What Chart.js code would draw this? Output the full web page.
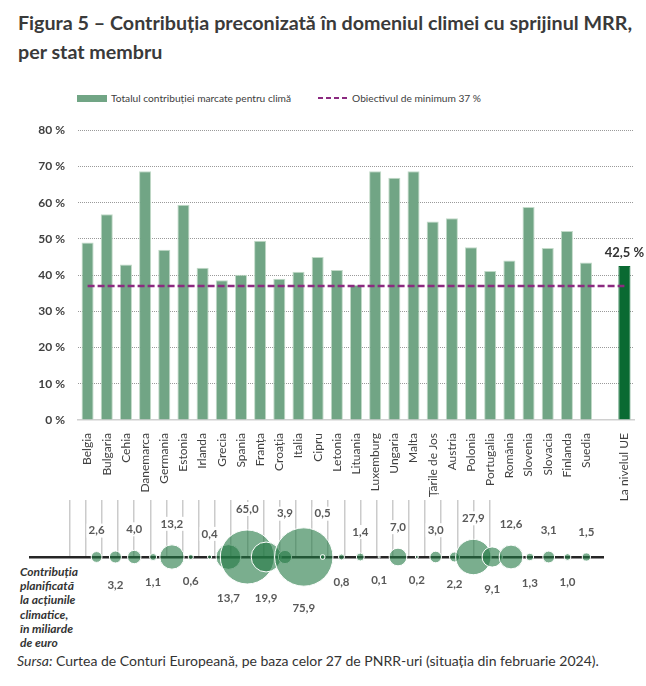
<!DOCTYPE html>
<html lang="ro">
<head>
<meta charset="utf-8">
<title>Figura 5</title>
<script src="https://cdn.jsdelivr.net/npm/chart.js@4.4.1/dist/chart.umd.min.js"></script>
<style>
  html, body { margin: 0; padding: 0; background: #fff; }
  body { width: 646px; height: 686px; position: relative; overflow: hidden; font-family: Lato, "Open Sans", sans-serif; color: #404040; }
  #title { position: absolute; left: 18px; top: 9px; font-weight: 700; font-size: 19.7px; line-height: 28.5px; color: #3a3a3a; white-space: nowrap; }
  #legend { position: absolute; left: 77px; top: 92px; font-size: 10.2px; color: #404040; white-space: nowrap; display: flex; align-items: center; }
  #legend .box { display: inline-block; width: 30px; height: 7px; background: #71a585; margin-right: 4px; }
  #legend svg { margin-left: 27px; margin-right: 3px; }
  #bars { position: absolute; left: 0; top: 110px; z-index: 2; }
  #bubbles { position: absolute; left: 0; top: 470px; z-index: 1; }
  #side { position: absolute; left: 20px; top: 565px; font-weight: 700; font-style: italic; font-size: 12px; line-height: 14.2px; color: #333; }
  #source { position: absolute; left: 17px; top: 652px; font-size: 14px; color: #333; white-space: nowrap; }
</style>
</head>
<body>
<div id="title">Figura 5 – Contribuția preconizată în domeniul climei cu sprijinul MRR,<br>per stat membru</div>
<div id="legend">
  <span class="box"></span>Totalul contribuției marcate pentru climă
  <svg width="31" height="6"><line x1="0" y1="3" x2="31" y2="3" stroke="#8b2a80" stroke-width="2" stroke-dasharray="5,3"/></svg>Obiectivul de minimum 37 %
</div>
<canvas id="bars" width="646" height="400"></canvas>
<canvas id="bubbles" width="646" height="170"></canvas>
<div id="side">Contribuția<br>planificată<br>la acțiunile<br>climatice,<br>în miliarde<br>de euro</div>
<div id="source"><i>Sursa:</i> Curtea de Conturi Europeană, pe baza celor 27 de PNRR-uri (situația din februarie 2024).</div>

<script>
const countries = ['Belgia', 'Bulgaria', 'Cehia', 'Danemarca', 'Germania', 'Estonia', 'Irlanda', 'Grecia',
  'Spania', 'Franța', 'Croația', 'Italia', 'Cipru', 'Letonia', 'Lituania', 'Luxemburg', 'Ungaria', 'Malta',
  'Țările de Jos', 'Austria', 'Polonia', 'Portugalia', 'România', 'Slovenia', 'Slovacia', 'Finlanda', 'Suedia'];
// share of climate contribution in each plan, %
const climateShare = [49.0, 56.8, 42.9, 68.7, 47.0, 59.4, 42.0, 38.6, 40.1, 49.5, 39.0, 40.9, 45.0, 41.4,
  37.3, 68.7, 66.9, 68.7, 54.8, 55.7, 47.7, 41.1, 44.0, 58.8, 47.5, 52.2, 43.5];
const euLabel = 'La nivelul UE';
const euShare = 42.5;
const target = 37;
// planned climate contribution, bn euro
const climateBn = [2.6, 3.2, 4.0, 1.1, 13.2, 0.6, 0.4, 13.7, 65.0, 19.9, 3.9, 75.9, 0.5, 0.8, 1.4, 0.1,
  7.0, 0.2, 3.0, 2.2, 27.9, 9.1, 12.6, 1.3, 3.1, 1.0, 1.5];
const yTicks = [0, 10, 20, 30, 40, 50, 60, 70, 80];

const comma = v => v.toFixed(1).replace('.', ',');

const barLabels = [...countries, '', euLabel];
const barValues = [...climateShare, null, euShare];
const isEu = barLabels.map(l => l === euLabel);

const euValueLabel = {
  id: 'euValueLabel',
  afterDatasetsDraw(chart) {
    const meta = chart.getDatasetMeta(1);
    const el = meta.data[barLabels.indexOf(euLabel)];
    const ctx = chart.ctx;
    ctx.save();
    ctx.font = 'bold 13px Lato';
    ctx.fillStyle = '#333';
    ctx.textAlign = 'center';
    ctx.textBaseline = 'middle';
    ctx.fillText(comma(euShare) + ' %', el.x, el.y - 13);
    ctx.restore();
  }
};

const barChart = new Chart(document.getElementById('bars'), {
  data: {
    labels: barLabels,
    datasets: [{
      type: 'line',
      label: 'Obiectivul de minimum 37 %',
      data: barLabels.map(() => target),
      borderColor: '#8b2a80',
      borderWidth: 2.5,
      borderDash: [7, 3],
      pointRadius: 0,
      fill: false,
      order: 0
    }, {
      type: 'bar',
      label: 'Totalul contribuției marcate pentru climă',
      data: barValues,
      backgroundColor: isEu.map(e => e ? '#0a6a32' : '#71a585'),
      borderColor: isEu.map(e => e ? '#0a6a32' : '#c2dac8'),
      borderWidth: { top: 1, left: 1, right: 1, bottom: 0 },
      barPercentage: 0.63,
      categoryPercentage: 1,
      order: 1
    }]
  },
  options: {
    responsive: false,
    animation: false,
    events: [],
    layout: { padding: { top: 17, right: 12, left: 0, bottom: 0 } },
    plugins: { legend: { display: false }, tooltip: { enabled: false } },
    scales: {
      x: {
        grid: { display: false },
        border: { display: true, color: '#d0d0d0', width: 1.5 },
        ticks: { autoSkip: false, minRotation: 90, maxRotation: 90, padding: 5, color: '#404040', font: { family: 'Lato', size: 12 } },
        afterFit: s => { s.height = 90; }
      },
      y: {
        min: 0,
        max: 80,
        afterBuildTicks: s => { s.ticks = yTicks.map(v => ({ value: v })); },
        grid: { color: c => c.tick && c.tick.value === 0 ? 'rgba(0,0,0,0)' : '#9a9a9a', lineWidth: 1, drawTicks: false },
        border: { display: false, dash: [1, 1] },
        ticks: { padding: 13, color: '#404040', font: { family: 'Lato', size: 12, weight: 'bold' }, callback: v => v + ' %' },
        afterFit: s => { s.width = 78; }
      }
    }
  },
  plugins: [euValueLabel]
});

// bubbles share the category positions of the bar chart above
const xs = barChart.scales.x;
const p0 = xs.getPixelForValue(0);
const step = xs.getPixelForValue(1) - p0;
const bubbleLeft = 20, bubbleRight = 603;
const guideStart = 60, guideStep = 16.45, guideCount = 27;

const bubbleLabels = {
  id: 'bubbleLabels',
  afterDatasetsDraw(chart) {
    const ctx = chart.ctx;
    const pts = chart.getDatasetMeta(0).data;
    ctx.save();
    ctx.font = 'bold 11.5px Lato';
    ctx.textAlign = 'center';
    ctx.textBaseline = 'middle';
    pts.forEach((pt, i) => {
      let reach = pt.options.radius;
      pts.forEach(q => {
        const dx = Math.abs(q.x - pt.x);
        if (dx < q.options.radius) reach = Math.max(reach, Math.sqrt(q.options.radius ** 2 - dx * dx) + 4);
      });
      const y = i % 2 === 0 ? pt.y - reach - 17 : pt.y + reach + 18;
      const txt = comma(climateBn[i]);
      const w = ctx.measureText(txt).width;
      ctx.fillStyle = '#fff';
      ctx.fillRect(pt.x - w / 2 - 2, y - 7, w + 4, 14);
      ctx.fillStyle = '#595959';
      ctx.fillText(txt, pt.x, y);
    });
    ctx.restore();
  }
};

new Chart(document.getElementById('bubbles'), {
  type: 'bubble',
  data: {
    datasets: [{
      label: 'Contribuția planificată',
      data: countries.map((c, i) => ({ x: i, y: 0, r: Math.sqrt(climateBn[i]) * 3.35 })),
      backgroundColor: 'rgba(34,120,66,0.6)',
      borderColor: '#ffffff',
      borderWidth: 1,
      clip: false
    }]
  },
  options: {
    responsive: false,
    animation: false,
    events: [],
    layout: { padding: { left: bubbleLeft, right: 646 - bubbleRight, top: 10, bottom: 83 } },
    plugins: { legend: { display: false }, tooltip: { enabled: false } },
    scales: {
      x: {
        type: 'linear',
        position: 'bottom',
        min: (bubbleLeft - p0) / step,
        max: (bubbleRight - p0) / step,
        ticks: { display: false },
        grid: { display: false, drawTicks: false },
        border: { display: true, color: '#262626', width: 2.5 },
        afterFit: s => { s.height = 0; }
      },
      x2: {
        type: 'linear',
        axis: 'x',
        position: 'top',
        min: (bubbleLeft - guideStart) / guideStep,
        max: (bubbleRight - guideStart) / guideStep,
        afterBuildTicks: s => { s.ticks = Array.from({ length: guideCount }, (_, k) => ({ value: k })); },
        ticks: { display: false },
        grid: { color: '#cbcbcb', lineWidth: 1.5, drawTicks: false },
        border: { display: false },
        afterFit: s => { s.height = 0; }
      },
      y: { display: false, min: 0, max: 1 }
    }
  },
  plugins: [bubbleLabels]
});
</script>
</body>
</html>
